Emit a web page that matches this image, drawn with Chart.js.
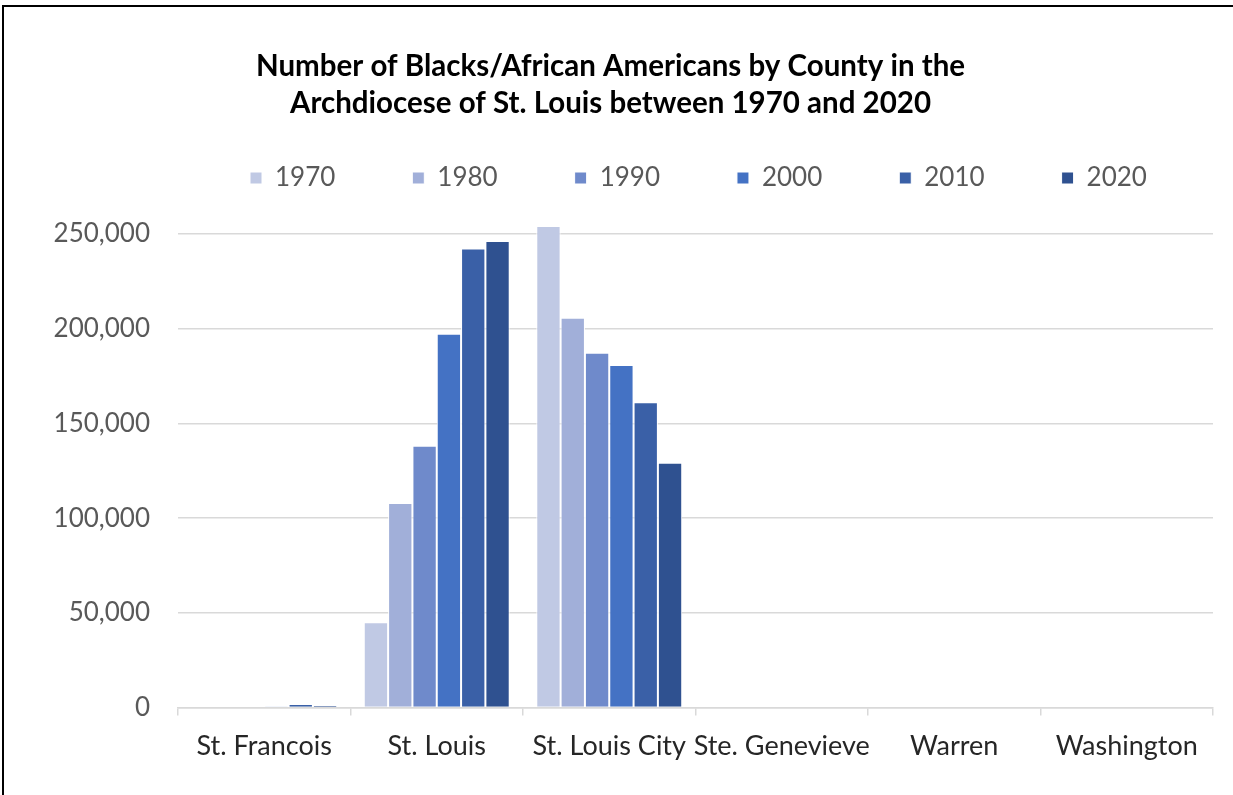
<!DOCTYPE html>
<html><head><meta charset="utf-8">
<script src="https://cdn.jsdelivr.net/npm/chart.js@4.4.1/dist/chart.umd.min.js"></script>
<style>
html,body{margin:0;padding:0;background:#fff;overflow:hidden;}
#wrap{position:relative;width:1233px;height:795px;}
#frame{position:absolute;left:2px;top:5px;width:1260px;height:820px;border-top:2px solid #000;border-left:2px solid #000;box-sizing:border-box;pointer-events:none;}
canvas{position:absolute;left:0;top:0;}
</style></head><body>
<div id="wrap"><canvas id="c" width="1233" height="795"></canvas><div id="frame"></div></div>
<script>
// ---- data ----
const counties = ['St. Francois', 'St. Louis', 'St. Louis City', 'Ste. Genevieve', 'Warren', 'Washington'];
const years = ['1970', '1980', '1990', '2000', '2010', '2020'];
const v1970 = [0, 45000, 254200, 0, 0, 0];
const v1980 = [0, 108000, 205800, 0, 0, 0];
const v1990 = [0, 138200, 187300, 0, 0, 0];
const v2000 = [300, 197400, 180800, 0, 0, 0];
const v2010 = [1900, 242300, 161200, 0, 0, 0];
const v2020 = [1400, 246300, 129200, 0, 0, 0];
const seriesValues = [v1970, v1980, v1990, v2000, v2010, v2020];
const yMin = 0, yMax = 250000, yStep = 50000;
const titleLines = ['Number of Blacks/African Americans by County in the', 'Archdiocese of St. Louis between 1970 and 2020'];

// ---- style ----
const colors = ['#c0c9e4', '#a1afd9', '#6f8acb', '#4472c4', '#3a60a7', '#2f5190'];
const FONT = 'Lato';
Chart.defaults.font.family = FONT;

const legendFontSize = 26;
const mctx = document.createElement('canvas').getContext('2d');
mctx.font = legendFontSize + 'px ' + FONT;
const textW = mctx.measureText('2000').width;
const legendPad = Math.round(162 - 12 - legendFontSize / 2 - textW);
const itemH = legendFontSize;
const legendTop = 178 - itemH / 2 - legendPad;
const titleSize = 29.5, titleLineH = 37, titlePadTop = 48;
const titlePadBottom = legendTop - (titlePadTop + 2 * titleLineH);
const legendNaturalBottom = legendTop + itemH + legendPad + 10;
const extraLegend = 234 - legendNaturalBottom;
const legendFirstBoxX = 250;

const legendFix = {
  id: 'legendFix',
  beforeInit(chart) {
    const lg = chart.legend;
    if (!lg) return;
    const orig = lg.fit;
    lg.fit = function () { orig.call(this); this.height += extraLegend; };
  },
  afterLayout(chart) {
    const lg = chart.legend;
    if (!lg || !lg.lineWidths) return;
    // keep the single legend row positioned over the plot area like the original
    lg.right = chart.width + 200;
    lg.left = 2 * legendFirstBoxX - legendPad - lg.right + lg.lineWidths[0];
  }
};

new Chart(document.getElementById('c'), {
  type: 'bar',
  data: {
    labels: counties,
    datasets: years.map((y, i) => ({
      label: y,
      data: seriesValues[i],
      backgroundColor: colors[i],
      borderColor: '#ffffff',
      borderWidth: 1,
      clip: false
    }))
  },
  options: {
    responsive: false,
    animation: false,
    devicePixelRatio: 1,
    categoryPercentage: 0.846,
    barPercentage: 1,
    layout: { padding: { top: 0, left: 8, right: 20, bottom: 19 } },
    plugins: {
      tooltip: { enabled: false },
      title: {
        display: true,
        text: titleLines,
        color: '#000000',
        font: { family: FONT, size: titleSize, weight: 'bold', lineHeight: titleLineH / titleSize },
        padding: { top: titlePadTop, bottom: titlePadBottom }
      },
      legend: {
        display: true,
        position: 'top',
        fullSize: true,
        align: 'center',
        labels: {
          boxWidth: 12,
          boxHeight: 12,
          padding: legendPad,
          color: '#595959',
          font: { family: FONT, size: legendFontSize }
        }
      }
    },
    scales: {
      x: {
        offset: true,
        grid: {
          offset: true,
          display: true,
          drawOnChartArea: false,
          drawTicks: true,
          tickLength: 8,
          color: '#d9d9d9',
          lineWidth: 1.5
        },
        border: { display: true, color: '#d9d9d9', width: 1.5 },
        ticks: {
          color: '#262626',
          font: { family: FONT, size: 27 },
          padding: 14,
          maxRotation: 0,
          autoSkip: false
        }
      },
      y: {
        min: yMin,
        max: yMax,
        afterFit(s) { s.width = 170; },
        grid: { color: '#d9d9d9', lineWidth: 1.5, drawTicks: false },
        border: { display: false },
        ticks: {
          stepSize: yStep,
          color: '#595959',
          font: { family: FONT, size: 26 },
          padding: 28
        }
      }
    }
  },
  plugins: [legendFix]
});
</script>
</body></html>
